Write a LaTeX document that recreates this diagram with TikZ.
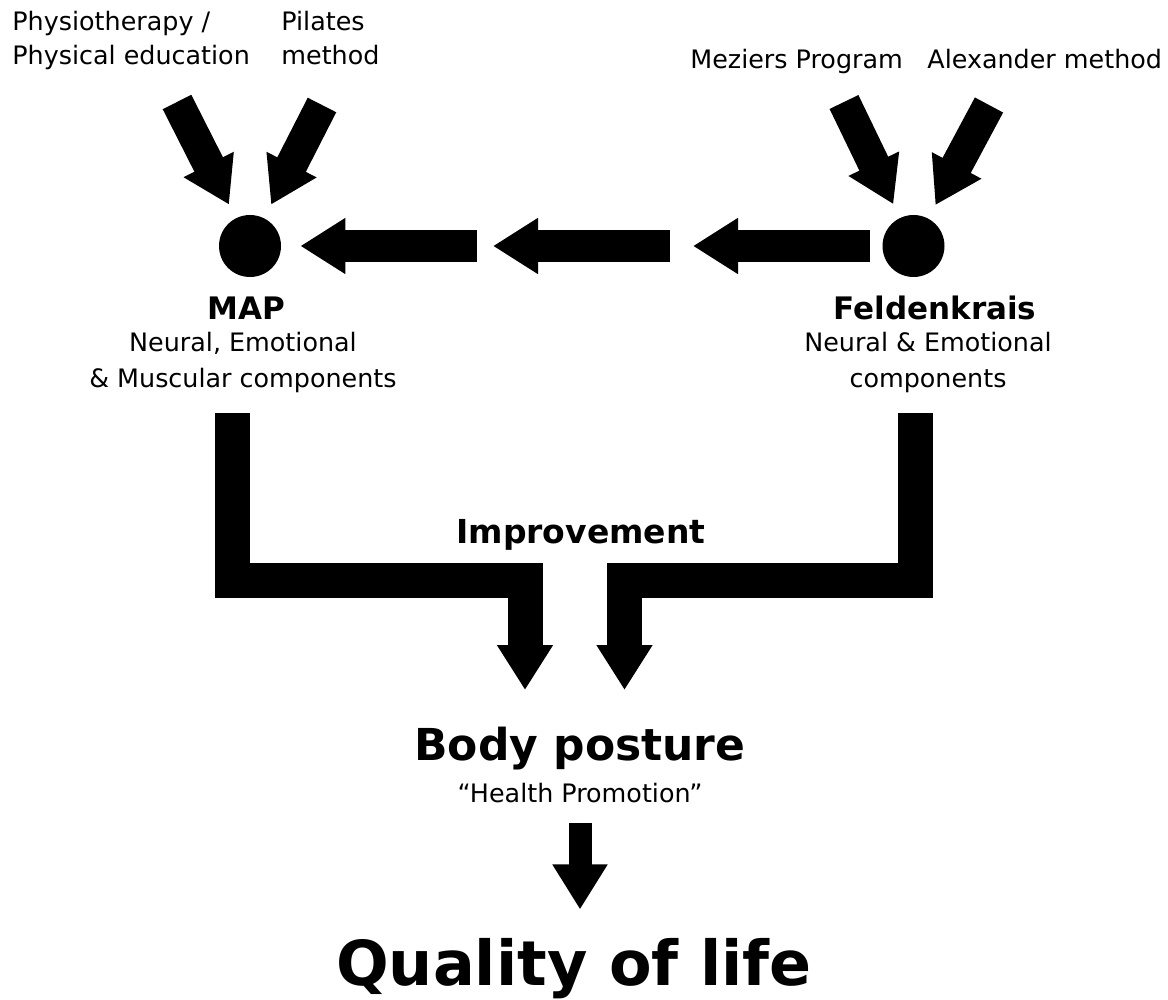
\documentclass[tikz,border=0pt]{standalone}
\usepackage{fontspec}
\setmainfont{DejaVu Sans}
\usetikzlibrary{arrows.meta}
\tikzset{
  every picture/.style={font={\fontsize{12.7pt}{17pt}\selectfont}, x=0.5pt, y=-0.5pt},
  every node/.style={inner sep=0pt},
  head/.style={font={\bfseries\fontsize{#1}{#1}\selectfont}},
  dot/.style={circle, fill, minimum size=31pt},
  fatarrow/.style={line width=16pt, -{Triangle[length=22.5pt, width=26.5pt]}},
  bendarrow/.style={line width=17.5pt, -{Triangle[length=22.5pt, width=26.5pt]}},
  thinarrow/.style={line width=11.5pt, -{Triangle[length=22.5pt, width=26pt]}}}

\begin{document}
\begin{tikzpicture}
  \useasboundingbox (0,0) rectangle (1168,1000);

  \node [anchor=base west, align=left] (physio) at (12,65) {Physiotherapy /\\Physical education};
  \node [anchor=base west, align=left] (pilates) at (281,65) {Pilates\\method};
  \node [anchor=base west] (meziers) at (690,69) {Meziers Program};
  \node [anchor=base west] (alexander) at (927,69) {Alexander method};

  \node [dot] (map) at (250,246) {};
  \node [dot] (feld) at (913.5,246) {};

  \node [head=15.5pt, anchor=base] (maptitle) at (246,320) {MAP};
  \node [anchor=base, align=center, font={\fontsize{12.7pt}{17.5pt}\selectfont}] (maptext) at (243,387)
    {Neural, Emotional\\\& Muscular components};
  \node [head=15.5pt, anchor=base] (feldtitle) at (935,320) {Feldenkrais};
  \node [anchor=base, align=center, font={\fontsize{12.7pt}{17.5pt}\selectfont}] (feldtext) at (928,387)
    {Neural \& Emotional\\components};

  \node [head=16.5pt, anchor=base] (improve) at (581,543) {Improvement};
  \node [head=22pt, anchor=base] (posture) at (580,760) {Body posture};
  \node [anchor=base] (health) at (580,802) {“Health Promotion”};
  \node [head=31pt, anchor=base] (quality) at (574,985) {Quality of life};

  \coordinate (physioout) at (177,102);
  \coordinate (pilatesout) at (322,105);
  \coordinate (meziersout) at (844,102);
  \coordinate (alexout) at (989,105);
  \coordinate (midstart) at (670,246);
  \coordinate (midend) at (493,246);
  \coordinate (feldend) at (693,246);
  \coordinate (midstart2) at (477,246);
  \coordinate (mapdown) at (232.5,413);
  \coordinate (felddown) at (915.5,413);
  \coordinate (leftin) at (525,690);
  \coordinate (rightin) at (624.5,690);

  \draw [fatarrow, shorten >=7.5pt] (physioout) -- (map);
  \draw [fatarrow, shorten >=7.5pt] (pilatesout) -- (map);
  \draw [fatarrow, shorten >=7.5pt] (meziersout) -- (feld);
  \draw [fatarrow, shorten >=7.5pt] (alexout) -- (feld);

  \draw [fatarrow, shorten <=6pt] (feld) -- (feldend);
  \draw [fatarrow] (midstart) -- (midend);
  \draw [fatarrow, shorten >=9.5pt] (midstart2) -- (map);

  \draw [bendarrow] (mapdown) -- ++(0,167.5) -| (leftin);
  \draw [bendarrow] (felddown) -- ++(0,167.5) -| (rightin);

  \draw [thinarrow, shorten <=10pt, shorten >=14pt] (health.south) -- (health.south |- quality.north);
\end{tikzpicture}
\end{document}
